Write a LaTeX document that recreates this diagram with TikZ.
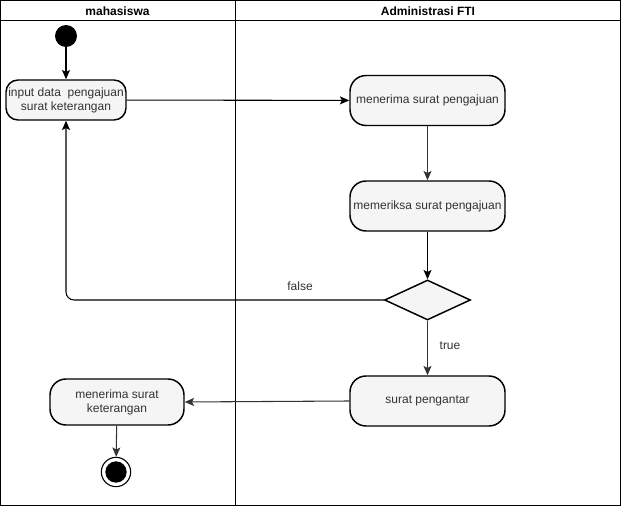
\documentclass[tikz,border=0pt]{standalone}
\usepackage{fontspec}
\setmainfont{Liberation Sans}
\usetikzlibrary{arrows.meta,shapes.geometric}
\begin{document}
\begin{tikzpicture}[x=0.75pt,y=-0.75pt,
  every node/.style={font=\fontsize{9}{10.5}\selectfont, text=black!80},
  lanehead/.style={font=\bfseries\fontsize{9}{10.5}\selectfont, text=black},
  action/.style={draw=black, line width=1.1pt, fill=black!4, rounded corners=12pt,
    minimum width=#1*0.75pt, minimum height=37.5pt, align=center, inner sep=1pt},
  action/.default=155,
  decision/.style={draw=black, line width=1.1pt, fill=black!4, diamond, aspect=2.15,
    minimum width=64.5pt, minimum height=30pt, inner sep=0pt},
  startnode/.style={circle, fill=black, minimum size=16.5pt, inner sep=0pt},
  endnode/.style={circle, draw=black, line width=0.8pt, fill=white, minimum size=22pt, inner sep=0pt},
  flow/.style={draw=black!80, line width=0.8pt, -{Stealth[length=7pt,width=6pt,inset=1.5pt]}},
  flowb/.style={draw=black, line width=0.8pt, -{Stealth[length=7pt,width=6pt,inset=1.5pt]}},
  guard/.style={font=\fontsize{9}{10.5}\selectfont, text=black!80}
]
% swimlane frame
\useasboundingbox (0,0) rectangle (621,506);
\draw[line width=0.7pt] (0.5,0.5) rectangle (620.5,505.5);
\draw[line width=0.7pt] (0.5,20) -- (620.5,20);
\draw[line width=0.7pt] (235,0.5) -- (235,505.5);
\node[lanehead] (laneA) at (117.5,11) {mahasiswa};
\node[lanehead] (laneB) at (428,11) {Administrasi FTI};

% activity nodes
\node[startnode] (start) at (66,36) {};
\node[action=120, minimum height=30pt, rounded corners=9pt] (input) at (66,100) {input data\ \ pengajuan\\surat keterangan};
\node[action] (terima) at (427.5,100.5) {menerima surat pengajuan};
\node[action] (periksa) at (427.5,206) {memeriksa surat pengajuan};
\node[decision] (cek) at (427.5,300) {};
\node[action] (pengantar) at (427.5,401) {surat pengantar};
\node[action=134, minimum height=34.5pt] (ket) at (117,402) {menerima surat\\keterangan};
\node[endnode] (finish) at (116,472) {};
\node[circle, fill=black, minimum size=16pt, inner sep=0pt] (finishdot) at (finish) {};

% control flow
\draw[flowb] (start) -- (input);
\draw[flowb] (input) -- (terima);
\draw[flow] (terima) -- (periksa);
\draw[flowb] (periksa) -- (cek);
\coordinate (back) at (66,300);
\draw[flowb, rounded corners=6pt] (cek.west) -- (back) -- (input.south);
\node[guard] (lfalse) at (300,286) {false};
\draw[flow] (cek.south) -- (pengantar.north);
\node[guard] (ltrue) at (450,346) {true};
\draw[flow] (pengantar.west) -- (ket.east);
\draw[flow] (ket) -- (finish);
\end{tikzpicture}
\end{document}
